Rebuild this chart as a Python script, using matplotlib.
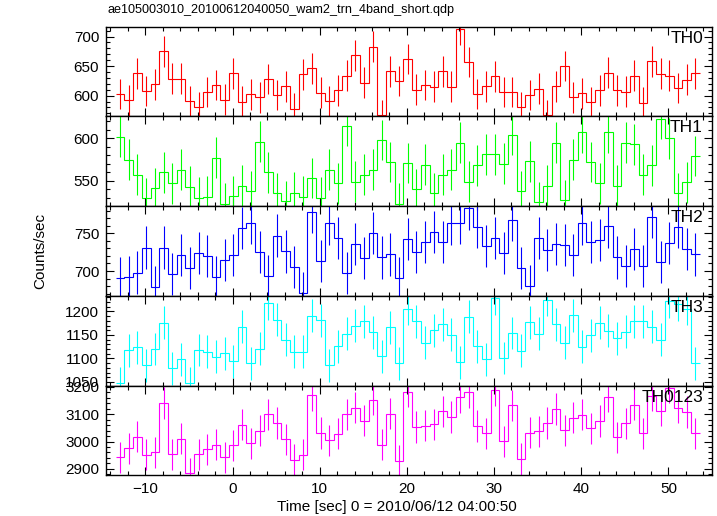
import numpy as np
import matplotlib
matplotlib.use("Agg")
import matplotlib.pyplot as plt
from matplotlib.ticker import MultipleLocator

# light curve, 1 s bins, counts/sec per WAM band
time_start = -13.4
bin_width = 1.0

th0 = [603, 592, 638, 608, 619, 675, 629, 629, 591, 580,
       606, 618, 593, 638, 590, 602, 597, 628, 601, 616,
       578, 636, 646, 605, 591, 609, 634, 668, 622, 683,
       567, 641, 625, 662, 610, 618, 615, 641, 615, 712,
       657, 603, 616, 633, 606, 606, 580, 601, 612, 567,
       616, 650, 597, 604, 589, 609, 639, 609, 607, 634,
       588, 658, 637, 634, 613, 627, 638]
th1 = [602, 575, 557, 529, 541, 560, 547, 563, 543, 530,
       531, 577, 523, 532, 544, 538, 596, 560, 535, 526,
       536, 531, 553, 530, 563, 547, 615, 549, 557, 563,
       598, 572, 523, 571, 540, 569, 535, 557, 563, 595,
       549, 568, 581, 581, 570, 604, 538, 573, 525, 544,
       595, 527, 575, 607, 572, 547, 607, 544, 595, 593,
       557, 568, 623, 600, 535, 548, 579]
th2 = [691, 692, 698, 731, 679, 731, 696, 721, 704, 724,
       720, 692, 715, 721, 757, 764, 725, 693, 747, 726,
       705, 671, 778, 713, 763, 744, 697, 736, 717, 750,
       718, 722, 691, 742, 725, 738, 752, 738, 763, 764,
       783, 758, 733, 744, 724, 768, 704, 680, 744, 728,
       736, 734, 721, 763, 738, 741, 759, 718, 707, 729,
       707, 772, 712, 737, 758, 729, 722]
th3 = [1047, 1117, 1124, 1085, 1120, 1176, 1079, 1098, 1047, 1118,
       1114, 1104, 1111, 1094, 1167, 1090, 1121, 1217, 1182, 1140,
       1114, 1114, 1191, 1181, 1085, 1126, 1153, 1170, 1179, 1156,
       1105, 1166, 1090, 1206, 1179, 1133, 1160, 1173, 1150, 1092,
       1189, 1126, 1098, 1228, 1101, 1154, 1116, 1177, 1153, 1225,
       1173, 1133, 1192, 1125, 1149, 1176, 1159, 1143, 1157, 1179,
       1179, 1167, 1140, 1222, 1215, 1206, 1090]
th0123 = [2942, 2975, 3018, 2952, 2960, 3141, 2953, 3011, 2884, 2953,
          2971, 2989, 2942, 2986, 3061, 2993, 3040, 3099, 3068, 3008,
          2933, 2952, 3170, 3031, 3004, 3028, 3099, 3123, 3076, 3153,
          2989, 3102, 2930, 3182, 3053, 3058, 3063, 3110, 3090, 3163,
          3180, 3057, 3030, 3187, 3001, 3133, 2936, 3033, 3037, 3068,
          3119, 3041, 3087, 3098, 3048, 3075, 3164, 3015, 3066, 3134,
          3030, 3168, 3112, 3196, 3123, 3108, 3030]

# typical 1-sigma error per band
errors = [26, 24, 28, 35, 57]

labels = ["TH0", "TH1", "TH2", "TH3", "TH0123"]
colors = ["#ff0000", "#00ff00", "#0000ff", "#00ffff", "#ff00ff"]
ylims = [(565, 717), (520, 626), (667, 786), (1042, 1233), (2876, 3204)]
ymajor = [50, 50, 50, 50, 100]
yminor = [10, 10, 10, 10, 20]

plt.rcParams["font.family"] = ["Liberation Sans", "DejaVu Sans"]

fig, axes = plt.subplots(5, 1, sharex=True, figsize=(7.17, 5.16), dpi=100)
fig.subplots_adjust(left=0.148, right=0.993, top=0.9486, bottom=0.0785, hspace=0)

series = [th0, th1, th2, th3, th0123]
for ax, vals, err, lab, col, yl, mj, mn in zip(axes, series, errors, labels,
                                               colors, ylims, ymajor, yminor):
    vals = np.array(vals, dtype=float)
    edges = time_start + bin_width * np.arange(len(vals) + 1)
    centers = 0.5 * (edges[:-1] + edges[1:])
    ax.stairs(vals, edges, baseline=None, color=col, lw=0.8)
    ax.errorbar(centers, vals, yerr=err, fmt="none", ecolor=col,
                elinewidth=0.8, capsize=0)
    ax.set_ylim(*yl)
    ax.set_xlim(-14.5, 55)
    ax.yaxis.set_major_locator(MultipleLocator(mj))
    ax.yaxis.set_minor_locator(MultipleLocator(mn))
    ax.xaxis.set_major_locator(MultipleLocator(10))
    ax.xaxis.set_minor_locator(MultipleLocator(2))
    ax.tick_params(which="both", direction="in", top=True, right=True,
                   labelsize=11, width=0.8)
    ax.tick_params(which="major", length=6, pad=5)
    ax.tick_params(which="minor", length=3)
    for sp in ax.spines.values():
        sp.set_linewidth(1.0)
    ax.text(0.985, 0.87, lab, transform=ax.transAxes, ha="right",
            va="center", fontsize=12.5)

fig.text(108 / 717, 1 - 10 / 516, "ae105003010_20100612040050_wam2_trn_4band_short.qdp",
         ha="left", va="center", fontsize=9.1)
fig.text(0.554, 0.018, "Time [sec] 0 = 2010/06/12 04:00:50",
         ha="center", va="center", fontsize=11)
fig.text(0.056, 0.514, "Counts/sec", rotation=90, ha="center", va="center",
         fontsize=11)

fig.savefig("out.png", dpi=100)
plt.close(fig)
